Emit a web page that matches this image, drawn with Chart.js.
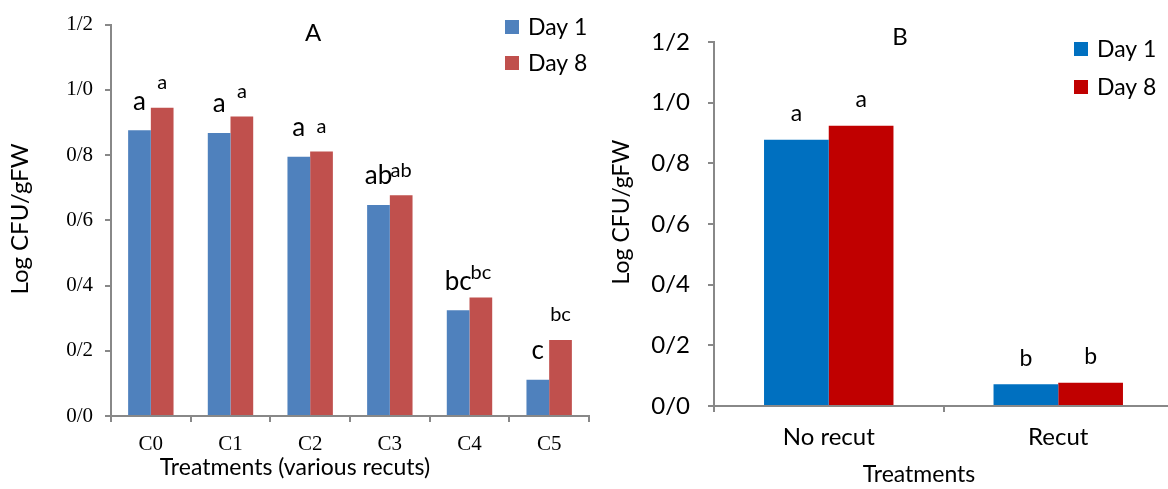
<!DOCTYPE html>
<html><head><meta charset="utf-8">
<script src="https://cdn.jsdelivr.net/npm/chart.js@4/dist/chart.umd.min.js"></script>
<style>
html,body{margin:0;padding:0;background:#fff;overflow:hidden;width:1168px;height:489px;position:relative;}
#ca{position:absolute;left:0;top:0;}
#cb{position:absolute;left:600px;top:0;}
</style></head><body>
<canvas id="ca" width="600" height="489"></canvas>
<canvas id="cb" width="600" height="489"></canvas>
<script>
const catsA = ['C0','C1','C2','C3','C4','C5'];
const day1A = [0.876, 0.868, 0.795, 0.647, 0.324, 0.111];
const day8A = [0.945, 0.918, 0.811, 0.677, 0.363, 0.233];
const letters1A = ['a','a','a','ab','bc','c'];
const letters8A = ['a','a','a','ab','bc','bc'];

const catsB = ['No recut','Recut'];
const day1B = [0.878, 0.0715];
const day8B = [0.924, 0.077];
const letters1B = ['a','b'];
const letters8B = ['a','b'];

const yTickLabels = ['0/0','0/2','0/4','0/6','0/8','1/0','1/2'];
const seriesNames = ['Day 1','Day 8'];
const yTitle = 'Log CFU/gFW';
const xTitleA = 'Treatments (various recuts)';
const xTitleB = 'Treatments';

const SANS = 'Lato, "Open Sans", sans-serif';
const SERIF = '"Liberation Serif", "DejaVu Serif", serif';

const annot = {
  id: 'annot',
  afterDatasetsDraw(chart, args, o) {
    const ctx = chart.ctx;
    ctx.save();
    ctx.fillStyle = '#000';
    ctx.textAlign = 'center';
    ctx.textBaseline = 'middle';
    chart.data.datasets.forEach((ds, di) => {
      const meta = chart.getDatasetMeta(di);
      const st = o.labels[di];
      ctx.font = st.font;
      meta.data.forEach((bar, i) => {
        ctx.fillText(ds.letters[i], bar.x, bar.y - st.offset);
      });
    });
    // panel title
    ctx.font = o.titleFont;
    ctx.fillText(o.title, o.titleX, o.titleY);
    // x axis title
    ctx.font = o.xTitleFont;
    ctx.fillText(o.xTitle, o.xTitleX, o.xTitleY);
    // y axis title
    ctx.save();
    ctx.translate(o.yTitleX, o.yTitleY);
    ctx.rotate(-Math.PI / 2);
    ctx.font = o.yTitleFont;
    ctx.fillText(yTitle, 0, 0);
    ctx.restore();
    // legend
    ctx.textAlign = 'left';
    ctx.font = o.legendFont;
    chart.data.datasets.forEach((ds, di) => {
      const cy = o.legendY[di];
      ctx.fillStyle = ds.backgroundColor;
      ctx.fillRect(o.legendX, cy - o.box / 2, o.box, o.box);
      ctx.fillStyle = '#000';
      ctx.fillText(ds.label, o.legendX + o.box + 9, cy + 1);
    });
    ctx.restore();
  }
};

function makeChart(id, cats, d1, d8, l1, l8, colors, cfg) {
  return new Chart(document.getElementById(id), {
    type: 'bar',
    data: {
      labels: cats,
      datasets: [
        {label: seriesNames[0], data: d1, letters: l1, backgroundColor: colors[0], borderWidth: 0},
        {label: seriesNames[1], data: d8, letters: l8, backgroundColor: colors[1], borderWidth: 0}
      ]
    },
    options: {
      responsive: false,
      animation: false,
      devicePixelRatio: 1,
      layout: {padding: cfg.padding},
      datasets: {bar: {barPercentage: 1, categoryPercentage: cfg.catPct}},
      plugins: {
        legend: {display: false},
        tooltip: {enabled: false},
        title: {display: false},
        annot: cfg.annot
      },
      scales: {
        x: {
          afterFit: s => { s.height = cfg.xHeight; },
          grid: {display: true, drawOnChartArea: false, drawTicks: true, tickLength: 6, color: '#888', lineWidth: 2, offset: true},
          border: {display: true, color: '#888', width: 2},
          ticks: {color: '#000', font: cfg.xTickFont, padding: cfg.xTickPad, maxRotation: 0, autoSkip: false}
        },
        y: {
          min: 0, max: 1.2,
          afterFit: s => { s.width = cfg.yWidth; },
          grid: {display: true, drawOnChartArea: false, drawTicks: true, tickLength: 6, color: '#888', lineWidth: 2},
          border: {display: true, color: '#888', width: 2},
          ticks: {stepSize: 0.2, color: '#000', font: cfg.yTickFont, padding: cfg.yTickPad,
                  callback: (v, i) => yTickLabels[i]}
        }
      }
    },
    plugins: [annot]
  });
}

makeChart('ca', catsA, day1A, day8A, letters1A, letters8A, ['#4F81BD', '#C0504D'], {
  padding: {top: 14, right: 11, left: 0, bottom: 0},
  catPct: 0.57,
  xHeight: 73, yWidth: 111,
  xTickFont: {family: SERIF, size: 21}, xTickPad: 10,
  yTickFont: {family: SERIF, size: 21}, yTickPad: 12,
  annot: {
    labels: [{font: '26px ' + SANS, offset: 29}, {font: '20px ' + SANS, offset: 25}],
    title: 'A', titleFont: '24px ' + SANS, titleX: 313, titleY: 33,
    xTitle: xTitleA, xTitleFont: '23px ' + SANS, xTitleX: 295, xTitleY: 468,
    yTitleFont: '24px ' + SANS, yTitleX: 20, yTitleY: 219,
    legendFont: '23px ' + SANS, legendX: 505, legendY: [27, 63], box: 14
  }
});

makeChart('cb', catsB, day1B, day8B, letters1B, letters8B, ['#0070C0', '#C00000'], {
  padding: {top: 42, right: 27, left: 0, bottom: 0},
  catPct: 0.564,
  xHeight: 83, yWidth: 114,
  xTickFont: {family: SANS, size: 24}, xTickPad: 11,
  yTickFont: {family: SANS, size: 24}, yTickPad: 18,
  annot: {
    labels: [{font: '23px ' + SANS, offset: 26}, {font: '23px ' + SANS, offset: 26}],
    title: 'B', titleFont: '24px ' + SANS, titleX: 300, titleY: 37,
    xTitle: xTitleB, xTitleFont: '23px ' + SANS, xTitleX: 319, xTitleY: 475,
    yTitleFont: '23px ' + SANS, yTitleX: 22, yTitleY: 212,
    legendFont: '23px ' + SANS, legendX: 474, legendY: [49, 87], box: 14
  }
});
</script>
</body></html>
